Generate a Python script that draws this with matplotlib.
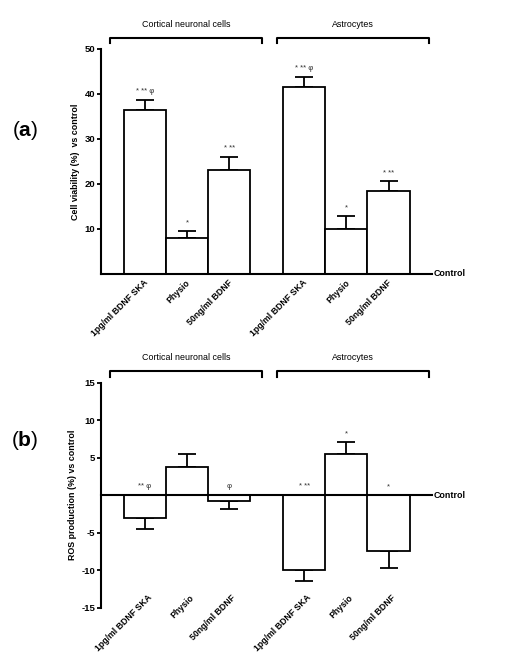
import matplotlib
matplotlib.use("Agg")
import matplotlib.pyplot as plt
import matplotlib.transforms as mtrans
import numpy as np

plt.rcParams['font.family'] = ['Liberation Sans', 'DejaVu Sans']
plt.rcParams['mathtext.fontset'] = 'custom'
plt.rcParams['mathtext.rm'] = 'Liberation Sans'
plt.rcParams['mathtext.bf'] = 'Liberation Sans:bold'

categories = ["1pg/ml BDNF SKA", "Physio", "50ng/ml BDNF",
              "1pg/ml BDNF SKA", "Physio", "50ng/ml BDNF"]
groups = ["Cortical neuronal cells", "Astrocytes"]

viability_mean = [36.5, 7.95, 23.0, 41.5, 9.95, 18.5]
viability_sem = [2.25, 1.55, 3.0, 2.3, 2.95, 2.1]
viability_marks = ["* ** φ", "*", "* **", "* ** φ", "*", "* **"]

ros_mean = [-3.0, 3.7, -0.75, -10.0, 5.5, -7.45]
ros_sem = [1.5, 1.8, 1.05, 1.5, 1.65, 2.25]
ros_marks = ["** φ", "", "φ", "* **", "*", "*"]

a_ticks = [10, 20, 30, 40, 50]
b_ticks = [-15, -10, -5, 5, 10, 15]

W, H = 514, 656
fig = plt.figure(figsize=(W / 100, H / 100), dpi=100)

x = np.array([0, 1, 2, 3.77, 4.77, 5.77])
xlim = (-1.04, 6.8)

def setup(ax, means, sems, marks, ylim, ticks, ylabel, neg_mark_y, label_y, label_dx):
    errs_low = [s if m < 0 else 0 for m, s in zip(means, sems)]
    errs_up = [s if m >= 0 else 0 for m, s in zip(means, sems)]
    ax.bar(x, means, width=1.0, color='white', edgecolor='black', linewidth=1.3, zorder=2)
    ax.errorbar(x, means, yerr=[errs_low, errs_up], fmt='none', ecolor='black',
                elinewidth=1.3, capsize=6.8, capthick=1.3, zorder=1)
    ax.set_xlim(*xlim)
    ax.set_ylim(*ylim)
    ax.set_yticks(ticks)
    ax.set_yticklabels([str(t) for t in ticks], fontsize=6.8, fontweight='bold')
    ax.tick_params(axis='y', length=3, width=1.3, pad=1.2)
    ax.set_xticks([])
    for s in ['top', 'right', 'bottom']:
        ax.spines[s].set_visible(False)
    ax.spines['left'].set_linewidth(1.5)
    ax.axhline(0, color='black', linewidth=1.5, zorder=3, clip_on=False)
    ax.set_ylabel(ylabel, fontsize=6.4, fontweight='bold', labelpad=3)
    ax.text(1.005, 0, "Control", transform=mtrans.blended_transform_factory(ax.transAxes, ax.transData),
            fontsize=6.4, fontweight='bold', ha='left', va='center')
    for xi, m, s, t in zip(x, means, sems, marks):
        if not t:
            continue
        if m >= 0:
            yy = m + s + (ylim[1] - ylim[0]) * 0.02
        else:
            yy = neg_mark_y
        ax.text(xi, yy, t, fontsize=5.6, ha='center', va='bottom', color='#333333')
    bt = mtrans.blended_transform_factory(ax.transData, ax.transAxes)
    for xi, c in zip(x, categories):
        ax.text(xi + label_dx, label_y, c, transform=bt, rotation=45, ha='right', va='top',
                fontsize=6.3, fontweight='bold')
    spans = [(-0.82, 2.78), (3.13, 6.72)]
    for (x0, x1), g in zip(spans, groups):
        ax.plot([x0, x0, x1, x1], [1.025, 1.05, 1.05, 1.025], transform=bt,
                color='black', linewidth=1.5, clip_on=False)
        ax.text((x0 + x1) / 2, 1.09, g, transform=bt, ha='center', va='bottom', fontsize=6.4)

ax_a = fig.add_axes([101 / W, 1 - 273.7 / H, 331 / W, 224.7 / H])
setup(ax_a, viability_mean, viability_sem, viability_marks, (0, 50), a_ticks,
      "Cell viability (%)  vs control", None, -0.02, 0.12)

ax_b = fig.add_axes([101 / W, 1 - 607.7 / H, 331 / W, 225 / H])
setup(ax_b, ros_mean, ros_sem, ros_marks, (-15, 15), b_ticks,
      "ROS production (%) vs control", 0.7, 0.065, 0.2)

fig.text(25 / W, 1 - 130 / H, r"($\mathbf{a}$)", fontsize=15, ha='center', va='center')
fig.text(25 / W, 1 - 440 / H, r"($\mathbf{b}$)", fontsize=15, ha='center', va='center')

fig.savefig("out.png", dpi=100, facecolor='white')
